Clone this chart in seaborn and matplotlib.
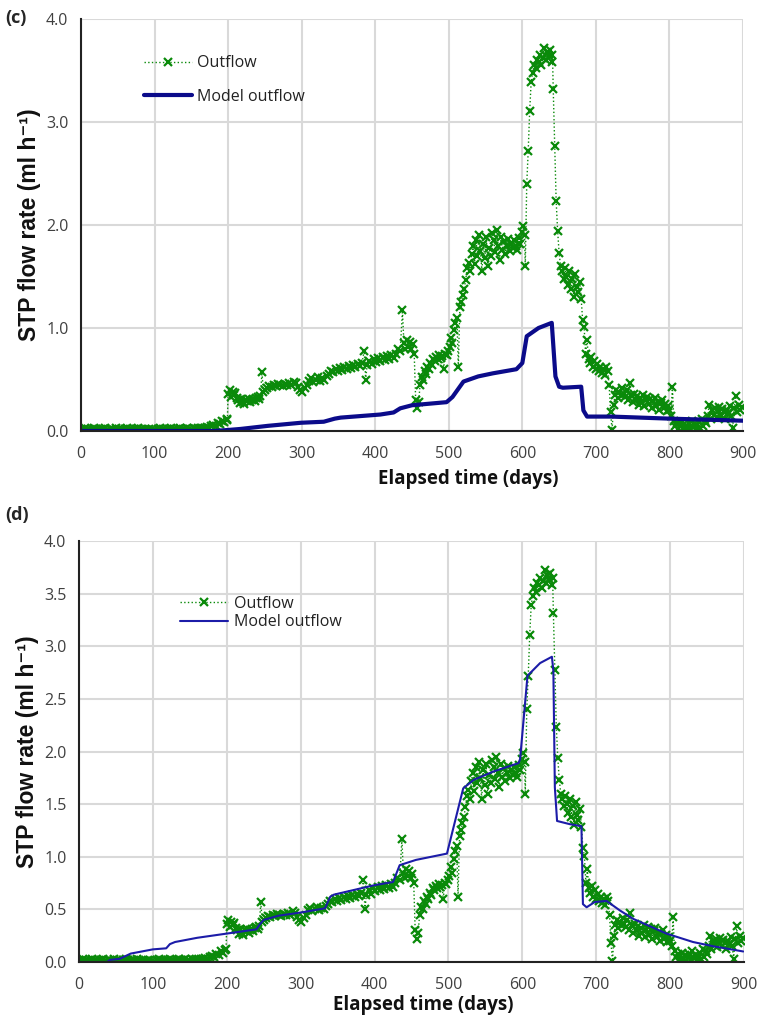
import numpy as np
import pandas as pd
import matplotlib
matplotlib.use("Agg")
import matplotlib.pyplot as plt
import seaborn as sns
from matplotlib.ticker import FormatStrFormatter

# ---------------- data ----------------
obs_day = [0,3,6,9,12,15,18,21,24,27,30,33,36,39,42,45,48,51,54,57,60,63,66,69,72,75,78,81,84,87,
           90,93,96,99,102,105,108,111,114,117,120,123,126,129,132,135,138,141,144,147,150,153,156,159,
           162,165,168,171,174,177,180,183,186,189,192,195,198,
           199,200,202,204,206,208,210,212,214,216,218,220,222,224,226,228,230,232,234,236,238,240,242,244,246,248,
           250,253,256,259,262,265,268,271,274,277,280,283,286,289,292,295,298,301,304,307,310,313,316,319,322,325,
           328,331,334,337,340,343,346,349,352,355,358,361,364,367,370,373,376,379,382,385,387,389,392,395,398,401,
           404,407,410,413,416,419,422,425,428,431,434,437,439,441,443,445,447,449,451,453,455,457,459,461,463,465,
           467,469,471,473,475,477,479,481,483,485,487,489,491,493,495,497,499,501,503,505,507,509,511,513,515,517,
           519,521,523,525,527,529,531,533,535,537,539,541,543,545,547,549,551,553,555,557,559,561,563,565,567,569,
           571,573,575,577,579,581,583,585,587,589,591,593,595,597,599,601,603,604,606,608,610,612,614,616,618,620,
           622,624,626,628,630,632,634,636,638,640,641,642,644,646,648,650,652,654,656,658,660,662,664,666,668,670,
           672,674,676,678,680,682,684,686,688,690,692,694,696,698,700,702,704,706,708,710,712,714,716,718,720,722,
           724,726,728,730,732,734,736,738,740,742,744,746,748,750,752,754,756,758,760,762,764,766,768,770,772,774,
           776,778,780,782,784,786,788,790,792,794,796,798,800,802,804,806,808,810,812,814,816,818,820,822,824,826,
           828,830,832,834,836,838,840,842,844,846,848,850,852,854,856,858,860,862,864,866,868,870,872,874,876,878,
           880,882,884,886,888,890,892,894,896,898]
obs_flow = [0.02,0.01,0.03,0.02,0.01,0.02,0.03,0.02,0.01,0.02,0.02,0.03,0.01,0.02,0.02,0.01,0.03,0.02,0.02,0.01,
            0.02,0.03,0.02,0.01,0.02,0.02,0.03,0.02,0.01,0.02,0.01,0.02,0.02,0.01,0.00,0.02,0.03,0.02,0.01,0.02,
            0.02,0.03,0.02,0.01,0.02,0.03,0.02,0.02,0.03,0.02,0.01,0.03,0.02,0.03,0.02,0.03,0.03,0.04,0.03,0.05,
            0.06,0.05,0.08,0.07,0.10,0.09,0.11,
            0.12,0.36,0.40,0.33,0.38,0.35,0.37,0.32,0.30,0.27,0.31,0.28,0.26,0.30,0.29,0.31,0.28,0.30,0.31,0.29,
            0.32,0.33,0.31,0.34,0.57,0.38,
            0.40,0.42,0.44,0.43,0.45,0.44,0.46,0.45,0.44,0.46,0.45,0.47,0.45,0.48,0.47,0.43,0.40,0.38,0.42,0.45,
            0.49,0.51,0.48,0.50,0.52,0.49,0.51,0.50,0.53,0.55,0.58,0.57,0.60,0.58,0.61,0.59,0.62,0.60,0.63,0.61,
            0.64,0.62,0.65,0.63,0.66,0.78,0.50,0.64,0.68,0.65,0.70,0.67,0.71,0.68,0.72,0.69,0.73,0.70,0.74,0.71,
            0.75,0.80,0.78,1.17,0.85,0.80,0.88,0.82,0.86,0.80,0.84,0.75,0.30,0.22,0.28,0.45,0.52,0.50,0.58,0.55,
            0.62,0.60,0.66,0.64,0.70,0.68,0.72,0.70,0.74,0.71,0.73,0.60,0.75,0.74,0.78,0.82,0.90,0.85,0.98,1.05,
            1.10,0.62,1.20,1.25,1.32,1.38,1.47,1.58,1.63,1.55,1.72,1.80,1.62,1.85,1.70,1.90,1.75,1.55,1.82,1.68,
            1.88,1.60,1.78,1.70,1.92,1.85,1.74,1.95,1.80,1.66,1.88,1.76,1.84,1.72,1.80,1.86,1.75,1.82,1.78,1.85,
            1.80,1.76,1.87,1.82,1.93,1.99,1.90,1.60,2.40,2.72,3.11,3.39,3.48,3.55,3.52,3.60,3.58,3.65,3.55,3.62,
            3.72,3.60,3.68,3.64,3.70,3.58,3.65,3.32,2.77,2.23,1.94,1.73,1.60,1.55,1.48,1.58,1.50,1.42,1.55,1.38,
            1.48,1.30,1.52,1.40,1.35,1.45,1.28,1.08,1.01,0.75,0.88,0.70,0.66,0.72,0.62,0.68,0.60,0.65,0.58,0.62,
            0.56,0.60,0.54,0.62,0.58,0.45,0.18,0.01,0.25,0.35,0.40,0.32,0.38,0.35,0.42,0.36,0.33,0.40,0.30,0.47,
            0.35,0.28,0.36,0.30,0.34,0.25,0.32,0.28,0.35,0.24,0.30,0.33,0.26,0.31,0.22,0.29,0.32,0.24,0.28,0.20,
            0.27,0.30,0.22,0.26,0.19,0.24,0.20,0.15,0.43,0.10,0.05,0.08,0.02,0.06,0.09,0.03,0.07,0.01,0.05,0.08,
            0.03,0.10,0.04,0.07,0.02,0.06,0.09,0.03,0.12,0.05,0.10,0.08,0.15,0.25,0.12,0.20,0.16,0.22,0.14,0.19,
            0.23,0.15,0.21,0.18,0.12,0.20,0.17,0.24,0.15,0.03,0.22,0.34,0.18,0.25,0.20,0.23]

# model outflow, panel (c)
model_c_day  = [0, 150, 180, 200, 217, 254, 299, 330, 345, 353, 407, 425, 434, 450, 497, 505, 520, 540, 560,
                592, 600, 606, 622, 640, 645, 650, 655, 680, 683, 688, 721, 800, 900]
model_c_flow = [0.0, 0.0, 0.0, 0.01, 0.02, 0.05, 0.08, 0.09, 0.12, 0.13, 0.16, 0.18, 0.22, 0.25, 0.28, 0.33,
                0.48, 0.53, 0.56, 0.60, 0.66, 0.92, 1.00, 1.05, 0.53, 0.43, 0.42, 0.43, 0.20, 0.14, 0.14, 0.12, 0.10]

# model outflow, panel (d)
model_d_day  = [0, 38, 42, 55, 70, 100, 118, 123, 130, 160, 200, 240, 245, 250, 270, 300, 333, 340, 345, 400,
                425, 434, 456, 498, 520, 534, 561, 595, 597, 607, 624, 640, 642, 644, 647, 664, 680, 682, 687,
                698, 714, 732, 750, 795, 831, 858, 899]
model_d_flow = [0.0, 0.0, 0.02, 0.03, 0.08, 0.12, 0.13, 0.17, 0.19, 0.23, 0.27, 0.31, 0.36, 0.40, 0.44, 0.47,
                0.51, 0.62, 0.64, 0.73, 0.76, 0.92, 0.97, 1.03, 1.65, 1.73, 1.81, 1.89, 1.93, 2.72, 2.84, 2.90,
                2.77, 1.66, 1.34, 1.31, 1.29, 0.55, 0.52, 0.57, 0.58, 0.49, 0.41, 0.27, 0.19, 0.15, 0.10]

x_ticks = [0, 100, 200, 300, 400, 500, 600, 700, 800, 900]
y_ticks_c = [0.0, 1.0, 2.0, 3.0, 4.0]
y_ticks_d = [0.0, 0.5, 1.0, 1.5, 2.0, 2.5, 3.0, 3.5, 4.0]

obs_df = pd.DataFrame({"day": obs_day, "flow": obs_flow})
mc_df = pd.DataFrame({"day": model_c_day, "flow": model_c_flow})
md_df = pd.DataFrame({"day": model_d_day, "flow": model_d_flow})

# ---------------- style ----------------
sns.set_style("white")
plt.rcParams["font.family"] = ["Open Sans", "DejaVu Sans"]

GREEN = "#0a8a0a"
NAVY_C = "#0b0b8a"
NAVY_D = "#1c1ca8"
GRID = "#d9d9d9"

fig = plt.figure(figsize=(7.61, 10.27), dpi=100)
ax_c = fig.add_axes([81/761, 1-431/1027, (743-81)/761, (431-19)/1027])
ax_d = fig.add_axes([79/761, 1-962/1027, (744-79)/761, (962-541)/1027])


def draw(ax, mdf, lw_model, col_model, yticks, legend_xy, legend_dy, xlabel_xy):
    sns.lineplot(data=obs_df, x="day", y="flow", ax=ax, sort=False, estimator=None,
                 color=GREEN, lw=1.0, linestyle=":", marker="x", markersize=6,
                 markeredgewidth=1.6, markeredgecolor=GREEN, label="Outflow", zorder=3)
    sns.lineplot(data=mdf, x="day", y="flow", ax=ax, sort=False, estimator=None,
                 color=col_model, lw=lw_model, label="Model outflow", zorder=4)
    ax.set_xlim(0, 900)
    ax.set_ylim(0, 4.0)
    ax.set_xticks(x_ticks)
    ax.set_yticks(yticks)
    ax.yaxis.set_major_formatter(FormatStrFormatter("%.1f"))
    ax.grid(True, color=GRID, lw=1.5, zorder=0)
    ax.set_axisbelow(True)
    for s in ["top", "right"]:
        ax.spines[s].set_visible(False)
    for s in ["left", "bottom"]:
        ax.spines[s].set_color("#222222")
        ax.spines[s].set_linewidth(1.5)
        ax.spines[s].set_zorder(5)
    ax.tick_params(axis="both", which="major", direction="out", length=5, width=1.2,
                   color="#222222", labelsize=11.5, labelcolor="#404040", pad=4)
    ax.tick_params(axis="x", pad=6)
    ax.set_xlabel("Elapsed time (days)", fontsize=13.5, fontweight="bold", color="#111111",
                  family=["Open Sans", "DejaVu Sans"])
    ax.xaxis.set_label_coords(*xlabel_xy)
    ax.xaxis.label.set_va("center")
    ax.set_ylabel("STP flow rate (ml h\u207b\u00b9)", fontsize=16.5, fontweight="bold",
                  family=["Liberation Sans", "DejaVu Sans"], color="#111111", labelpad=4)
    leg = ax.legend(loc="upper left", bbox_to_anchor=legend_xy, frameon=False, fontsize=11.5,
                    handlelength=3.0, handletextpad=0.35, labelspacing=legend_dy, borderaxespad=0)
    for t in leg.get_texts():
        t.set_color("#222222")


draw(ax_c, mc_df, 3.0, NAVY_C, y_ticks_c, (0.085, 0.927), 1.1, (0.585, -0.1165))
draw(ax_d, md_df, 1.5, NAVY_D, y_ticks_d, (0.143, 0.885), 0.15, (0.517, -0.102))

fig.text(5/761, 1-18/1027, "(c)", fontsize=13, fontweight="bold", va="center", ha="left",
         family=["Open Sans", "DejaVu Sans"])
fig.text(5/761, 1-515/1027, "(d)", fontsize=13, fontweight="bold", va="center", ha="left",
         family=["Open Sans", "DejaVu Sans"])

fig.savefig("out.png", dpi=100)
